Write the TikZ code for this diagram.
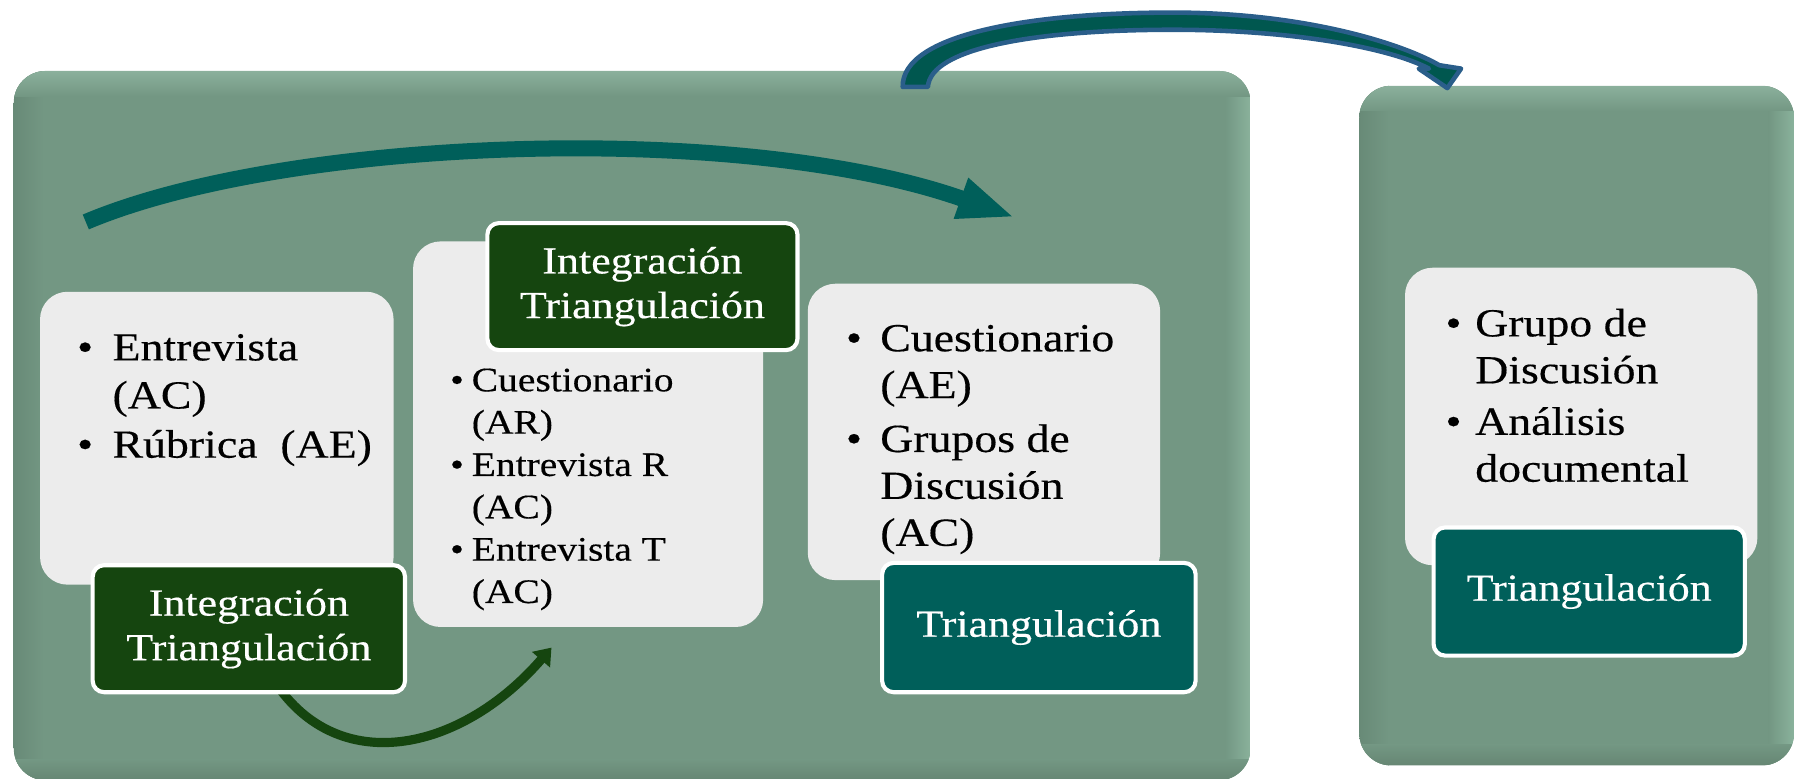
\documentclass[tikz,border=0pt]{standalone}
\usepackage{fontspec}
\setmainfont{Liberation Serif}[FakeStretch=1.15,FakeBold=0.35]
\usetikzlibrary{arrows.meta,fit}
\definecolor{panelbase}{HTML}{739783}
\definecolor{pantop}{HTML}{8BB09C}
\definecolor{panleft}{HTML}{688A77}
\definecolor{panright}{HTML}{8AB29C}
\definecolor{panbot}{HTML}{668673}
\definecolor{boxgray}{HTML}{ECECEC}
\definecolor{labgreen}{HTML}{15450F}
\definecolor{labteal}{HTML}{005F5A}
\definecolor{arrblue}{HTML}{2A5E8A}
\definecolor{arrfill}{HTML}{00574F}
\newcommand\fntbig{\fontsize{17.4}{21}\selectfont}
\newcommand\fntsmall{\fontsize{15}{18.5}\selectfont}
\newcommand\fntlab{\fontsize{16.7}{19.5}\selectfont}
\newcommand\bul[1]{\makebox[#1][l]{\textbullet}}
\newcommand\mypanel[4]{%
  \begin{scope}
    \clip[rounded corners=14pt] (#1,#2) rectangle (#3,#4);
    \fill[panelbase] (#1,#2) rectangle (#3,#4);
    \shade[left color=panleft, right color=panelbase] (#1,#2) rectangle (#1+26,#4);
    \shade[left color=panelbase, right color=panright] (#3-22,#2) rectangle (#3,#4);
    \shade[top color=panelbase, bottom color=panbot] (#1,#4-18) rectangle (#3,#4);
    \shade[top color=pantop, bottom color=panelbase] (#1,#2) rectangle (#3,#2+22);
  \end{scope}}
\tikzset{
  lightbox/.style={fill=boxgray, rounded corners=12pt, inner sep=0pt},
  labbox/.style={draw=white, line width=1.8pt, rounded corners=5pt, inner sep=0pt,
    text=white, align=center, font=\fntlab},
  greenlab/.style={labbox, fill=labgreen},
  teallab/.style={labbox, fill=labteal},
  bigtxt/.style={anchor=base west, inner sep=0pt, font=\fntbig},
  smalltxt/.style={anchor=base west, inner sep=0pt, font=\fntsmall},
  bigarrow/.style={line width=7pt, labteal, -{Triangle[length=25pt,width=17pt]}},
  smallarrow/.style={line width=4pt, labgreen, -{Triangle[length=7pt,width=10pt]}},
}
\begin{document}
\begin{tikzpicture}[x=0.5pt,y=-0.5pt]
\useasboundingbox (0,0) rectangle (1568,680);
\clip (0,0) rectangle (1568,680);
% panels
\mypanel{12}{62}{1093}{682}
\mypanel{1188}{75}{1568}{669}
% big teal arrow
\coordinate (bigTail) at (75,194);
\coordinate (bigTip) at (887,190);
\draw[bigarrow] (bigTail) .. controls (250,120) and (647,105) .. (bigTip);
% light boxes
\node[lightbox, fit={(35,255) (344,511)}] (LB) {};
\node[lightbox, fit={(361,211) (667,548)}] (MB) {};
\node[lightbox, fit={(706,248) (1014,507)}] (RB) {};
\node[lightbox, fit={(1228,234) (1536,494)}] (QB) {};
% small green arrow
\coordinate (smTail) at (243,600);
\coordinate (smTip) at (482,566);
\draw[smallarrow] (smTail) .. controls (300,680) and (405,655) .. (smTip);
% labels
\node[greenlab, minimum width=136.5pt, minimum height=55.5pt] (L1) at (217.5,549.5) {Integración\\Triangulación};
\node[greenlab, minimum width=135.5pt, minimum height=55.5pt] (L2) at (561.5,250.5) {Integración\\Triangulación};
\node[teallab, minimum width=137pt, minimum height=56.5pt] (L3) at (908,548.5) {Triangulación};
\node[teallab, minimum width=136pt, minimum height=56pt] (L4) at (1389,517) {Triangulación};
% bullet texts
\node[bigtxt] (T1) at (67,315) {\begin{tabular}[t]{@{}l@{}}\bul{15.5pt}Entrevista\\
  \hspace*{15.5pt}(AC)\\[0.5pt]
  \bul{15.5pt}Rúbrica\ \ (AE)\end{tabular}};
\node[smalltxt] (T2) at (393,342) {\begin{tabular}[t]{@{}l@{}}\bul{9.5pt}Cuestionario\\
  \hspace*{9.5pt}(AR)\\
  \bul{9.5pt}Entrevista R\\
  \hspace*{9.5pt}(AC)\\
  \bul{9.5pt}Entrevista T\\
  \hspace*{9.5pt}(AC)\end{tabular}};
\node[bigtxt, font=\fontsize{17.4}{20.5}\selectfont] (T3) at (739,307) {\begin{tabular}[t]{@{}l@{}}\bul{15pt}Cuestionario\\
  \hspace*{15pt}(AE)\\[3pt]
  \bul{15pt}Grupos de\\
  \hspace*{15pt}Discusión\\
  \hspace*{15pt}(AC)\end{tabular}};
\node[bigtxt, font=\fontsize{17.4}{20.5}\selectfont] (T4) at (1263,294) {\begin{tabular}[t]{@{}l@{}}\bul{13pt}Grupo de\\
  \hspace*{13pt}Discusión\\[2pt]
  \bul{13pt}Análisis\\
  \hspace*{13pt}documental\end{tabular}};
% blue curved arrow between panels
\fill[arrfill, draw=arrblue, line width=2pt, line join=round]
  (789,76) .. controls (788,30) and (900,11) .. (1025,11)
  .. controls (1140,11) and (1225,38) .. (1258,57)
  -- (1277,60) -- (1265,77) -- (1240,60) -- (1249,60)
  .. controls (1215,42) and (1130,26) .. (1025,26)
  .. controls (905,26) and (813,42) .. (811,76) -- cycle;
\end{tikzpicture}
\end{document}
